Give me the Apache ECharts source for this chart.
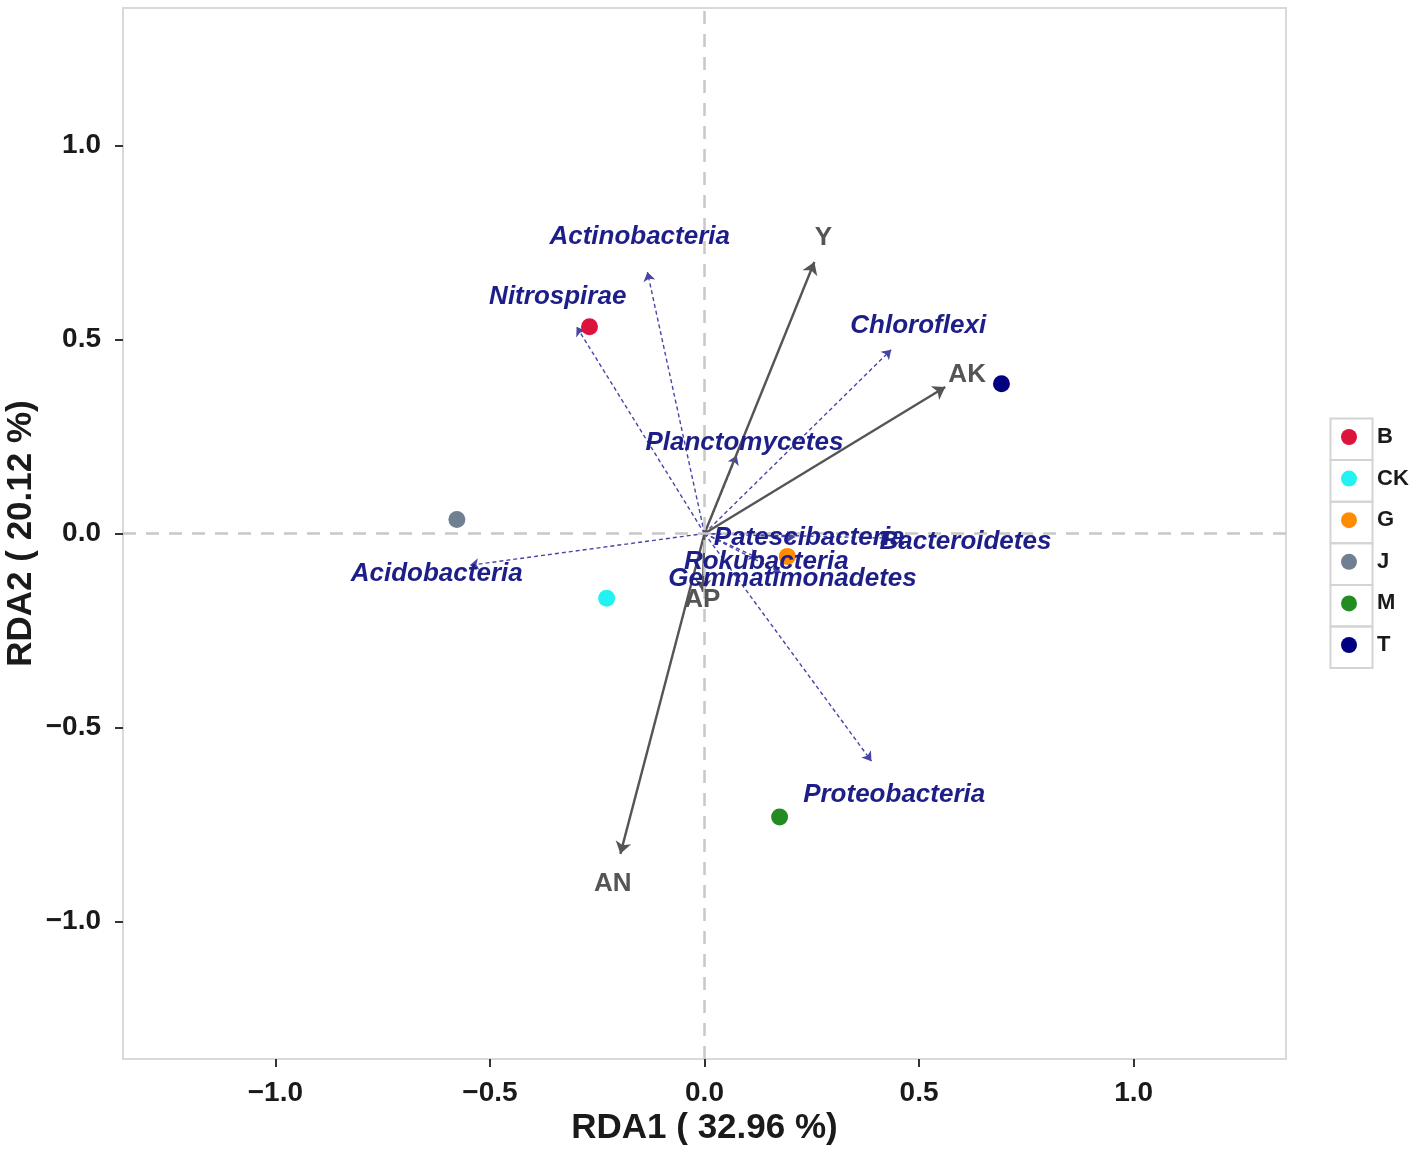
<!DOCTYPE html>
<html>
<head>
<meta charset="utf-8">
<script src="https://cdn.jsdelivr.net/npm/echarts@6/dist/echarts.min.js"></script>
<style>
  html, body { margin: 0; padding: 0; background: #fff; }
  #main { width: 1418px; height: 1153px; }
</style>
</head>
<body>
<div id="main"></div>
<script>
// samples (site scores)
var sampleNames = ['B', 'CK', 'G', 'J', 'M', 'T'];
var sampleX = [-0.268, -0.228, 0.193, -0.577, 0.175, 0.692];
var sampleY = [0.533, -0.167, -0.059, 0.036, -0.731, 0.386];
var sampleColors = ['#DC143C', '#22F2F2', '#FF8C00', '#708090', '#228B22', '#000080'];

// environmental factors
var envNames = ['Y', 'AK', 'AN', 'AP'];
var envX = [0.256, 0.561, -0.196, -0.004];
var envY = [0.700, 0.378, -0.826, -0.150];
var envLabX = [0.277, 0.612, -0.214, -0.005];
var envLabY = [0.762, 0.409, -0.903, -0.170];

// phyla
var phylaNames = ['Actinobacteria', 'Nitrospirae', 'Chloroflexi', 'Planctomycetes', 'Acidobacteria',
  'Proteobacteria', 'Patescibacteria', 'Bacteroidetes', 'Rokubacteria', 'Gemmatimonadetes'];
var phylaX = [-0.133, -0.298, 0.435, 0.075, -0.547, 0.389, 0.212, 0.430, 0.125, 0.178];
var phylaY = [0.674, 0.533, 0.474, 0.201, -0.082, -0.587, -0.009, -0.012, -0.063, -0.101];
var phylaLabX = [-0.151, -0.342, 0.498, 0.093, -0.624, 0.442, 0.244, 0.608, 0.144, 0.205];
var phylaLabY = [0.764, 0.610, 0.535, 0.234, -0.103, -0.674, -0.010, -0.021, -0.072, -0.116];

var tickValues = [-1.0, -0.5, 0.0, 0.5, 1.0];
var xTitle = 'RDA1 ( 32.96 %)';
var yTitle = 'RDA2 ( 20.12 %)';

var FONT = '"Liberation Sans", Arial, sans-serif';
var chart = echarts.init(document.getElementById('main'));

function fmt(v) {
  var s = Math.abs(v).toFixed(1);
  return v < 0 ? '\u2212' + s : s;
}

function axisCommon(title, gap, margin) {
  return {
    type: 'value',
    min: -1.355,
    max: 1.355,
    name: title,
    nameLocation: 'middle',
    nameGap: gap,
    nameMoveOverlap: false,
    nameTextStyle: { fontFamily: FONT, fontWeight: 'bold', fontSize: 35, color: '#1a1a1a' },
    axisLine: { show: false, onZero: false },
    splitLine: { show: false },
    axisTick: { show: true, length: 8, customValues: tickValues, lineStyle: { color: '#333', width: 2 } },
    axisLabel: {
      customValues: tickValues, formatter: fmt, margin: margin,
      fontFamily: FONT, fontWeight: 'bold', fontSize: 28, color: '#1a1a1a'
    }
  };
}

var series = [];

// zero reference lines
series.push({
  type: 'scatter', data: [], silent: true,
  markLine: {
    silent: true, symbol: 'none', label: { show: false },
    lineStyle: { color: '#c8c8c8', width: 2.5, type: [13, 10] },
    data: [{ xAxis: 0 }, { yAxis: 0 }]
  }
});

// phyla arrows
series.push({
  type: 'lines', coordinateSystem: 'cartesian2d', silent: true, z: 3,
  symbol: ['none', 'arrow'], symbolSize: 9,
  lineStyle: { color: '#4646a6', width: 1.4, type: [4, 3], opacity: 1 },
  itemStyle: { color: '#1c1c8c' },
  data: phylaNames.map(function (n, i) { return { coords: [[0, 0], [phylaX[i], phylaY[i]]] }; })
});

// env arrows
series.push({
  type: 'lines', coordinateSystem: 'cartesian2d', silent: true, z: 4,
  symbol: ['none', 'arrow'], symbolSize: 12,
  lineStyle: { color: '#555', width: 2.4, opacity: 1 },
  data: envNames.map(function (n, i) { return { coords: [[0, 0], [envX[i], envY[i]]] }; })
});

// sample points
sampleNames.forEach(function (n, i) {
  series.push({
    type: 'scatter', name: n, z: 5,
    symbol: 'circle', symbolSize: 17,
    itemStyle: { color: sampleColors[i], opacity: 1 },
    data: [[sampleX[i], sampleY[i]]]
  });
});

// env labels
series.push({
  type: 'scatter', silent: true, z: 6, symbolSize: 0,
  itemStyle: { opacity: 1 },
  label: {
    show: true, position: 'inside', formatter: function (p) { return p.name; },
    fontFamily: FONT, fontWeight: 'bold', fontSize: 26, color: '#555'
  },
  data: envNames.map(function (n, i) { return { name: n, value: [envLabX[i], envLabY[i]] }; })
});

// phyla labels
series.push({
  type: 'scatter', silent: true, z: 7, symbolSize: 0,
  itemStyle: { opacity: 1 },
  label: {
    show: true, position: 'inside', formatter: function (p) { return p.name; },
    fontFamily: FONT, fontWeight: 'bold', fontStyle: 'italic', fontSize: 26, color: '#1e1e88'
  },
  data: phylaNames.map(function (n, i) { return { name: n, value: [phylaLabX[i], phylaLabY[i]] }; })
});

// legend key boxes
var boxes = sampleNames.map(function (n, i) {
  return {
    type: 'rect', left: 1328, top: 416 + i * 41.6,
    shape: { width: 42, height: 41.6 },
    style: { fill: 'none', stroke: '#d4d4d4', lineWidth: 2 }
  };
});

chart.setOption({
  backgroundColor: '#fff',
  animation: false,
  grid: {
    left: 123, top: 8, right: 132, bottom: 94,
    outerBoundsMode: 'none', containLabel: false,
    show: true, borderColor: '#d9d9d9', borderWidth: 2, backgroundColor: '#fff'
  },
  xAxis: axisCommon(xTitle, 52, 20),
  yAxis: axisCommon(yTitle, 84, 22),
  legend: {
    data: sampleNames,
    orient: 'vertical',
    left: 1336, top: 421,
    icon: 'circle', itemWidth: 16, itemHeight: 16, itemGap: 19.6,
    textStyle: {
      fontFamily: FONT, fontWeight: 'bold', fontSize: 22, lineHeight: 16,
      color: '#1a1a1a', padding: [0, 0, 0, 15]
    },
    selectedMode: false
  },
  graphic: boxes,
  series: series
});
</script>
</body>
</html>
